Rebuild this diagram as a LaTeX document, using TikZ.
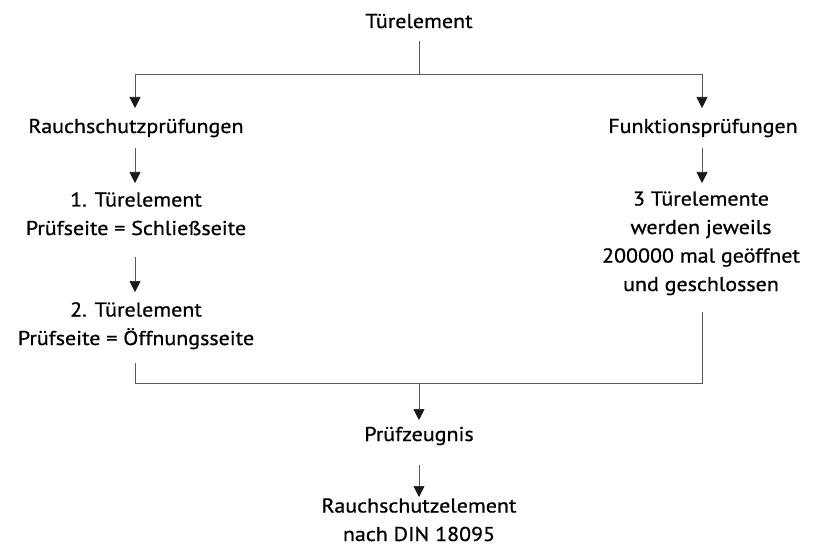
\documentclass[tikz,border=0pt]{standalone}
\usepackage{fontspec}
\setmainfont{PT Sans}[FakeStretch=1.1,FakeBold=0.8]
\usetikzlibrary{arrows.meta}
\begin{document}
\begin{tikzpicture}[x=1pt,y=1pt,
  lbl/.style={inner sep=0pt, outer sep=0pt, align=center, anchor=base,
              font=\fontsize{20}{28.5}\selectfont},
  ln/.style={draw=black!65, line width=0.7pt},
  arr/.style={ln, -{Triangle[width=11pt,length=11pt,color=black!90]}},
]
\useasboundingbox (0,0) rectangle (813,-553);
\node[lbl] (top) at (419,-28) {Türelement};
\node[lbl] (rsp) at (136,-133) {Rauchschutzprüfungen};
\node[lbl] (fp)  at (703,-133) {Funktionsprüfungen};
\node[lbl] (t1)  at (136,-235) {1. Türelement\\Prüfseite = Schließseite};
\node[lbl] (t2)  at (136,-345) {2. Türelement\\Prüfseite = Öffnungsseite};
\node[lbl] (t3)  at (701,-291) {3 Türelemente\\werden jeweils\\200000 mal geöffnet\\und geschlossen};
\node[lbl] (pz)  at (419,-441) {Prüfzeugnis};
\node[lbl] (rse) at (419,-541) {Rauchschutzelement\\nach DIN 18095};
\coordinate (j1) at (419,-74);
\coordinate (jl) at (135,-74);
\coordinate (jr) at (702,-74);
\coordinate (j2) at (419,-383);
\coordinate (kl) at (135,-383);
\coordinate (kr) at (702,-383);
% top distribution
\draw[ln] ([yshift=-13pt]top.base) -- (j1);
\draw[ln] (jl) -- (jr);
\draw[arr] (jl) -- ([yshift=25pt]jl |- rsp.base);
\draw[arr] (jr) -- ([yshift=25pt]jr |- fp.base);
% left column
\draw[arr] ([yshift=-15pt]jl |- rsp.base) -- ([yshift=52pt]jl |- t1.base);
\draw[arr] ([yshift=-22pt]jl |- t1.base) -- ([yshift=53pt]jl |- t2.base);
% right column
\draw[arr] ([yshift=-15pt]jr |- fp.base) -- ([yshift=108pt]jr |- t3.base);
% collecting bracket
\draw[ln] ([yshift=-18pt]kl |- t2.base) -- (kl) -- (kr) -- ([yshift=-21pt]kr |- t3.base);
\draw[arr] (j2) -- ([yshift=21pt]pz.base);
\draw[arr] ([yshift=-24pt]pz.base) -- ([yshift=44pt]rse.base);
\end{tikzpicture}
\end{document}
